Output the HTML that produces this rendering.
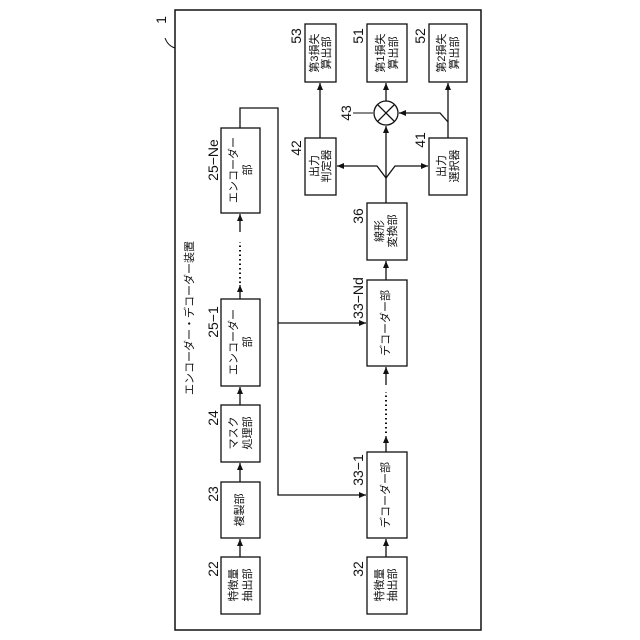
<!DOCTYPE html>
<html><head><meta charset="utf-8"><style>
html,body{margin:0;padding:0;background:#fff;}
svg{display:block;}
text{font-family:"Liberation Sans","Noto Sans CJK JP",sans-serif;fill:#111;}
</style></head><body>
<svg width="640" height="640" viewBox="0 0 640 640" xmlns="http://www.w3.org/2000/svg">
<defs>
<marker id="a" markerWidth="8" markerHeight="8" refX="7" refY="3" orient="auto" markerUnits="userSpaceOnUse">
<path d="M0,0 L7,3 L0,6 Z" fill="#111"/></marker>
</defs>
<g fill="none" stroke="#111" stroke-width="1.3">
<rect x="175" y="10" width="306" height="620" stroke-width="1.5"/>
<!-- boxes -->
<rect x="305" y="24" width="31" height="58"/>
<rect x="367" y="24" width="40" height="58"/>
<rect x="429" y="24" width="38" height="58"/>
<rect x="305" y="138" width="31" height="57"/>
<rect x="429" y="138" width="38" height="57"/>
<circle cx="386" cy="113" r="12"/>
<path d="M378,105 L394,121 M394,105 L378,121"/>
<rect x="367" y="203" width="40" height="57"/>
<rect x="221" y="128" width="39" height="85"/>
<rect x="221" y="299" width="39" height="87"/>
<rect x="221" y="405" width="39" height="57"/>
<rect x="221" y="482" width="39" height="56"/>
<rect x="221" y="557" width="39" height="57"/>
<rect x="367" y="280" width="40" height="86"/>
<rect x="367" y="452" width="40" height="86"/>
<rect x="367" y="557" width="40" height="57"/>
<!-- encoder arrows -->
<line x1="240" y1="557" x2="240" y2="539" marker-end="url(#a)"/>
<line x1="240" y1="482" x2="240" y2="463" marker-end="url(#a)"/>
<line x1="240" y1="405" x2="240" y2="387" marker-end="url(#a)"/>
<line x1="240" y1="299" x2="240" y2="285" marker-end="url(#a)"/>
<line x1="240" y1="232" x2="240" y2="214" marker-end="url(#a)"/>
<path d="M240,128 L240,108 L278,108 L278,495 L366,495" marker-end="url(#a)"/>
<line x1="278" y1="323" x2="366" y2="323" marker-end="url(#a)"/>
<!-- decoder arrows -->
<line x1="386" y1="557" x2="386" y2="539" marker-end="url(#a)"/>
<line x1="386" y1="452" x2="386" y2="436" marker-end="url(#a)"/>
<line x1="386" y1="385" x2="386" y2="367" marker-end="url(#a)"/>
<line x1="386" y1="280" x2="386" y2="261" marker-end="url(#a)"/>
<line x1="386" y1="203" x2="386" y2="126" marker-end="url(#a)"/>
<path d="M386,178 L377,166 L337,166" marker-end="url(#a)"/>
<path d="M386,178 L395,166 L428,166" marker-end="url(#a)"/>
<line x1="320" y1="138" x2="320" y2="83" marker-end="url(#a)"/>
<line x1="386" y1="101" x2="386" y2="83" marker-end="url(#a)"/>
<line x1="448" y1="138" x2="448" y2="83" marker-end="url(#a)"/>
<path d="M448,122 L440,113 L399,113" marker-end="url(#a)"/>
<!-- leaders -->
<path d="M165,38 Q168,46 175,48" stroke-width="1"/>
<path d="M353,113 L373,113" stroke-width="1"/>
</g>
<g stroke="#111" stroke-width="2" stroke-dasharray="1.5 3" fill="none">
<line x1="240" y1="283" x2="240" y2="242"/>
<line x1="386" y1="433" x2="386" y2="392"/>
</g>
<g font-size="11" text-anchor="middle" dominant-baseline="central">
<text transform="translate(190,318) rotate(-90)">エンコーダー・デコーダー装置</text>
<text transform="translate(315,53) rotate(-90)">第3損失</text>
<text transform="translate(327,53) rotate(-90)">算出部</text>
<text transform="translate(381,53) rotate(-90)">第1損失</text>
<text transform="translate(394,53) rotate(-90)">算出部</text>
<text transform="translate(442,53) rotate(-90)">第2損失</text>
<text transform="translate(455,53) rotate(-90)">算出部</text>
<text transform="translate(315,166) rotate(-90)">出力</text>
<text transform="translate(327,166) rotate(-90)">判定器</text>
<text transform="translate(442,166) rotate(-90)">出力</text>
<text transform="translate(455,166) rotate(-90)">選択器</text>
<text transform="translate(380,231) rotate(-90)">線形</text>
<text transform="translate(393,231) rotate(-90)">変換部</text>
<text transform="translate(234,170) rotate(-90)">エンコーダー</text>
<text transform="translate(248,170) rotate(-90)">部</text>
<text transform="translate(234,342) rotate(-90)">エンコーダー</text>
<text transform="translate(248,342) rotate(-90)">部</text>
<text transform="translate(234,433) rotate(-90)">マスク</text>
<text transform="translate(248,433) rotate(-90)">処理部</text>
<text transform="translate(240,510) rotate(-90)">複製部</text>
<text transform="translate(234,585) rotate(-90)">特徴量</text>
<text transform="translate(248,585) rotate(-90)">抽出部</text>
<text transform="translate(386,323) rotate(-90)">デコーダー部</text>
<text transform="translate(386,495) rotate(-90)">デコーダー部</text>
<text transform="translate(380,585) rotate(-90)">特徴量</text>
<text transform="translate(393,585) rotate(-90)">抽出部</text>
</g>
<g font-size="14" text-anchor="middle" dominant-baseline="central">
<text transform="translate(161,20) rotate(-90)">1</text>
<text transform="translate(296,36) rotate(-90)">53</text>
<text transform="translate(358,36) rotate(-90)">51</text>
<text transform="translate(420,36) rotate(-90)">52</text>
<text transform="translate(296,148) rotate(-90)">42</text>
<text transform="translate(420,140) rotate(-90)">41</text>
<text transform="translate(346,113) rotate(-90)">43</text>
<text transform="translate(358,216) rotate(-90)">36</text>
<text transform="translate(213,160) rotate(-90)">25−Ne</text>
<text transform="translate(213,322) rotate(-90)">25−1</text>
<text transform="translate(213,418) rotate(-90)">24</text>
<text transform="translate(213,494) rotate(-90)">23</text>
<text transform="translate(213,569) rotate(-90)">22</text>
<text transform="translate(358,298) rotate(-90)">33−Nd</text>
<text transform="translate(358,470) rotate(-90)">33−1</text>
<text transform="translate(358,569) rotate(-90)">32</text>
</g>
</svg>
</body></html>
